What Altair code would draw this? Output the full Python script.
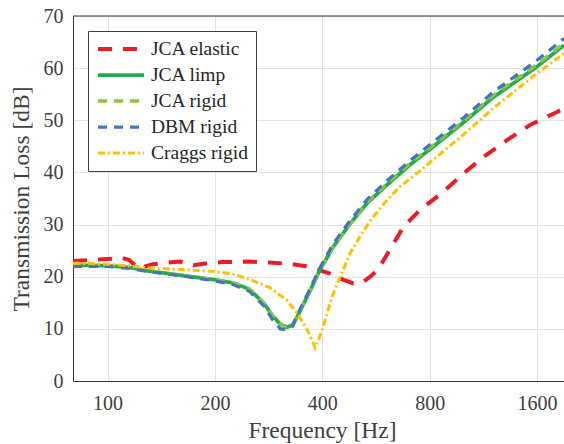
import altair as alt
import pandas as pd

series_names = ["JCA elastic", "JCA limp", "JCA rigid", "DBM rigid", "Craggs rigid"]
colors = ["#ec1c24", "#1fae4b", "#8cc63e", "#4472c4", "#ffc000"]
dashes = [[14, 11], [1, 0], [9, 7], [9, 7], [7, 3, 2, 3]]
widths = [4, 3, 3, 3.5, 3]

x_ticks = [100, 200, 400, 800, 1600]
y_ticks = [0, 10, 20, 30, 40, 50, 60, 70]

freq_elastic = [80, 90, 100, 110, 115, 122, 134, 147, 160, 174, 190, 210, 250, 290, 330, 360,
                394, 421, 459, 489, 520, 545, 575, 620, 676, 752, 874, 995, 1134, 1318, 1529, 1821, 1904]
tl_elastic = [23.0, 23.2, 23.4, 23.6, 23.2, 21.6, 22.4, 22.7, 22.9, 22.2, 22.6, 22.8, 22.9, 22.7, 22.4, 22.0,
              21.2, 20.6, 19.4, 18.7, 19.0, 20.0, 21.5, 25.3, 29.6, 32.8, 36.3, 39.8, 43.0, 46.2, 49.1, 51.6, 52.3]

freq_common = [80, 100, 115, 130, 160, 200, 225, 250, 275, 290, 305, 318, 330, 340, 363, 394,
               430, 479, 534, 607, 700, 800, 1000, 1200, 1600, 1904]
tl_limp = [22.2, 22.1, 21.8, 21.1, 20.3, 19.4, 18.8, 17.6, 14.8, 12.5, 10.9, 10.3, 10.7, 12.3, 16.2, 21.3,
           25.8, 30.2, 34.1, 37.6, 41.3, 44.4, 49.7, 54.3, 60.3, 64.4]
tl_rigid = [22.2, 22.1, 21.8, 21.1, 20.3, 19.4, 18.8, 17.6, 14.8, 12.5, 10.8, 10.2, 10.6, 12.3, 16.3, 21.4,
            25.9, 30.3, 34.3, 37.8, 41.6, 44.7, 50.0, 54.7, 60.7, 64.8]
tl_dbm = [22.0, 22.0, 21.6, 21.0, 20.2, 19.2, 18.5, 17.2, 14.3, 11.8, 10.0, 9.9, 10.5, 12.6, 16.6, 21.7,
          26.4, 30.8, 34.8, 38.4, 42.1, 45.3, 50.6, 55.3, 61.5, 65.7]

freq_craggs = [80, 100, 115, 130, 160, 200, 225, 250, 285, 318, 340, 363, 382, 399, 426, 449,
               479, 511, 545, 595, 661, 761, 1000, 1200, 1600, 1904]
tl_craggs = [22.6, 22.4, 22.1, 21.7, 21.4, 21.0, 20.5, 19.5, 17.9, 15.5, 13.0, 9.8, 6.4, 9.6, 16.2, 20.0,
             24.5, 27.8, 30.7, 34.0, 37.3, 40.6, 47.4, 52.2, 59.0, 62.8]

frames = []
for name, f, t in [
    ("JCA elastic", freq_elastic, tl_elastic),
    ("JCA limp", freq_common, tl_limp),
    ("JCA rigid", freq_common, tl_rigid),
    ("DBM rigid", freq_common, tl_dbm),
    ("Craggs rigid", freq_craggs, tl_craggs),
]:
    frames.append(pd.DataFrame({"series": name, "freq": f, "tl": t, "idx": range(len(f))}))
df = pd.concat(frames, ignore_index=True)

FONT = "Liberation Serif"
TXT = "#404040"

legend = alt.Legend(
    title=None, orient="none", legendX=15, legendY=15,
    symbolType="stroke", symbolSize=2116, symbolStrokeWidth=3,
    clipHeight=20, rowPadding=6, labelFontSize=19.5, labelFont=FONT,
    labelColor="#262626", padding=8, strokeColor="#404040", fillColor="white",
    labelOffset=5,
)

x_scale = alt.Scale(type="log", domain=[80, 1904])
y_scale = alt.Scale(domain=[0, 70])

lines = alt.Chart(df).mark_line(clip=True).encode(
    x=alt.X("freq:Q", scale=x_scale,
            axis=alt.Axis(values=x_ticks, format="d", title="Frequency [Hz]",
                          titleBaseline="alphabetic", titleX=249, titleY=56,
                          labelPadding=12)),
    y=alt.Y("tl:Q", scale=y_scale,
            axis=alt.Axis(values=y_ticks, title="Transmission Loss [dB]",
                          titleBaseline="alphabetic", titleX=-45, titleY=182.5,
                          titleAngle=-90, labelPadding=10)),
    color=alt.Color("series:N", scale=alt.Scale(domain=series_names, range=colors), legend=legend),
    strokeDash=alt.StrokeDash("series:N", scale=alt.Scale(domain=series_names, range=dashes), legend=legend),
    strokeWidth=alt.StrokeWidth("series:N", scale=alt.Scale(domain=series_names, range=widths), legend=legend),
    order="idx:Q",
)

top_border = alt.Chart(pd.DataFrame({"v": [70]})).mark_rule(color="#333333", strokeWidth=1).encode(
    y=alt.datum(70), x=alt.value(0), x2=alt.value(491)
)

chart = alt.layer(lines, top_border).properties(
    width=491, height=365,
    padding={"left": 73, "top": 16, "right": 0, "bottom": 63},
    autosize="none",
).configure_view(stroke=None).configure_axis(
    labelFont=FONT, titleFont=FONT, labelFontSize=20, titleFontSize=23.5,
    labelColor=TXT, titleColor=TXT, titleFontWeight="normal",
    gridColor="#e3e3e3", gridWidth=1, domainColor="#333333", domainWidth=1,
    ticks=False,
)

chart.save("out.html", embed_options={"renderer": "svg", "actions": False})
